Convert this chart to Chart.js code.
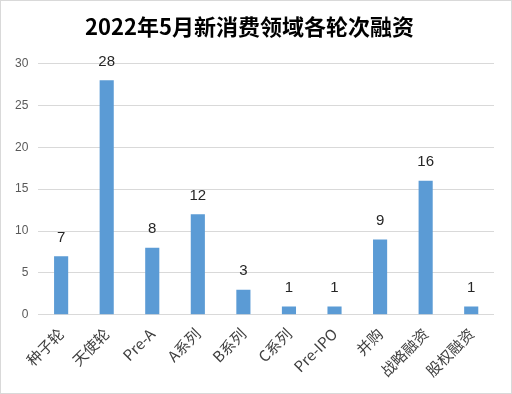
<!DOCTYPE html>
<html>
<head>
<meta charset="utf-8">
<script src="https://cdn.jsdelivr.net/npm/chart.js@4"></script>
<style>
  html, body { margin: 0; padding: 0; background: #fff; }
  #box { width: 512px; height: 394px; box-sizing: border-box; border: 1px solid #d9d9d9; }
</style>
</head>
<body>
<div id="box"><canvas id="myChart" width="510" height="392"></canvas></div>
<script>
const categories = ["种子轮", "天使轮", "Pre-A", "A系列", "B系列", "C系列", "Pre-IPO", "并购", "战略融资", "股权融资"];
const counts = [7, 28, 8, 12, 3, 1, 1, 9, 16, 1];
const yTicks = [0, 5, 10, 15, 20, 25, 30];

const font = "'Noto Sans CJK SC', 'Noto Sans', sans-serif";

// numbers over the bars
const barLabels = {
  id: "barLabels",
  afterDatasetsDraw(chart) {
    const c = chart.ctx;
    const meta = chart.getDatasetMeta(0);
    c.save();
    c.fillStyle = "#262626";
    c.font = "15px 'Liberation Sans', Arial, sans-serif";
    c.textAlign = "center";
    c.textBaseline = "bottom";
    meta.data.forEach((bar, i) => {
      c.fillText(counts[i], bar.x, bar.y - 11);
    });
    c.restore();
  },
};

const ctx = document.getElementById("myChart");
new Chart(ctx, {
  type: "bar",
  data: {
    labels: categories,
    datasets: [
      {
        data: counts,
        backgroundColor: "#5b9bd5",
        barPercentage: 0.31,
        categoryPercentage: 1,
      },
    ],
  },
  options: {
    responsive: false,
    animation: false,
    layout: { padding: { left: 4, right: 17, top: 0, bottom: 11 } },
    plugins: {
      legend: { display: false },
      tooltip: { enabled: false },
      title: {
        display: true,
        text: "2022年5月新消费领域各轮次融资",
        color: "#000",
        font: { family: font, size: 22, weight: "bold" },
        padding: { top: 12, bottom: 24 },
      },
    },
    scales: {
      y: {
        min: 0,
        max: 30,
        afterBuildTicks: (axis) => {
          axis.ticks = yTicks.map((v) => ({ value: v }));
        },
        border: { display: false },
        grid: { color: "#d9d9d9", drawTicks: false },
        ticks: { color: "#595959", font: { family: "'Liberation Sans', Arial, sans-serif", size: 12 }, padding: 10 },
      },
      x: {
        border: { display: false },
        grid: { display: false },
        ticks: {
          color: "#404040",
          font: { family: font, size: 15 },
          maxRotation: 45,
          minRotation: 45,
          autoSkip: false,
          padding: 2,
        },
      },
    },
  },
  plugins: [barLabels],
});
</script>
</body>
</html>
